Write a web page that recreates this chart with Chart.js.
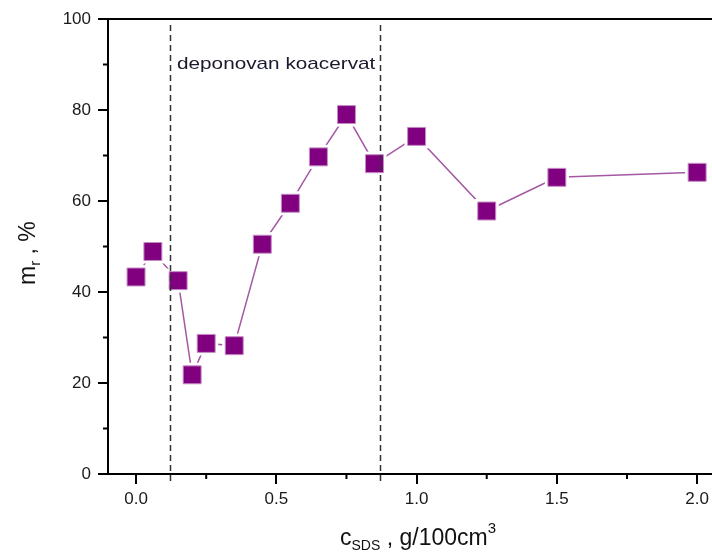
<!DOCTYPE html>
<html lang="sr">
<head>
    <meta charset="UTF-8">
    <title>m_r vs c_SDS</title>
    <script src="https://cdn.jsdelivr.net/npm/chart.js"></script>
    <style>
        html, body {
            margin: 0;
            padding: 0;
            background: #fff;
            overflow: hidden;
        }
        #wrap {
            position: relative;
            width: 712px;
            height: 552px;
            font-family: 'Liberation Sans', Arial, sans-serif;
            color: #111;
        }
        canvas { position: absolute; left: 0; top: 0; }
        .lbl {
            position: absolute;
            white-space: nowrap;
            line-height: 1;
        }
        .lbl sub, .lbl sup {
            position: relative;
            vertical-align: baseline;
            line-height: 0;
        }
        #xtitle { left: 340px; top: 526px; font-size: 23px; }
        #xtitle sub { font-size: 14px; top: 5px; }
        #xtitle sup { font-size: 15px; top: -12px; }
        #ytitle {
            left: 16px; top: 285px; font-size: 23px;
            transform-origin: 0 0;
            transform: rotate(-90deg);
        }
        #ytitle sub { font-size: 15px; top: 5px; }
        #note {
            left: 177px; top: 55px; font-size: 17px; color: #1a1a2e;
            transform-origin: 0 0;
            transform: scaleX(1.22);
        }
    </style>
</head>
<body>
<div id="wrap">
    <canvas id="chart" width="712" height="552"></canvas>
    <div class="lbl" id="ytitle">m<sub>r</sub> , %</div>
    <div class="lbl" id="xtitle">c<sub>SDS</sub> , g/100cm<sup>3</sup></div>
    <div class="lbl" id="note">deponovan koacervat</div>
</div>

<script>
    // SDS concentration (g/100cm3) and m_r (%)
    const cSDS = [0, 0.06, 0.15, 0.2, 0.25, 0.35, 0.45, 0.55, 0.65, 0.75, 0.85, 1.0, 1.25, 1.5, 2.0];
    const mR   = [43.3, 48.9, 42.5, 21.8, 28.7, 28.2, 50.5, 59.5, 69.7, 79.0, 68.2, 74.2, 57.8, 65.2, 66.3];

    // axis ticks
    const xMajor = [0, 0.5, 1.0, 1.5, 2.0];
    const xMinor = [0.25, 0.75, 1.25, 1.75];
    const yMajor = [0, 20, 40, 60, 80, 100];
    const yMinor = [10, 30, 50, 70, 90];

    // boundaries of the deposited coacervate region
    const regionBounds = [0.12, 0.87];

    const points = cSDS.map((x, i) => ({ x: x, y: mR[i] }));

    const frame = {
        id: 'frame',
        afterDatasetsDraw(chart) {
            const { ctx, chartArea: a, scales: { x, y } } = chart;
            ctx.save();
            // dashed region boundaries
            ctx.strokeStyle = '#333';
            ctx.lineWidth = 1.5;
            ctx.setLineDash([6, 4]);
            regionBounds.forEach(v => {
                const px = Math.round(x.getPixelForValue(v)) + 0.5;
                ctx.beginPath();
                ctx.moveTo(px, a.top + 6);
                ctx.lineTo(px, a.bottom + 7);
                ctx.stroke();
            });
            ctx.setLineDash([]);
            // top frame line
            ctx.strokeStyle = '#000';
            ctx.lineWidth = 2;
            ctx.beginPath();
            ctx.moveTo(a.left, a.top);
            ctx.lineTo(a.right, a.top);
            ctx.stroke();
            // minor ticks
            ctx.beginPath();
            xMinor.forEach(v => {
                const px = x.getPixelForValue(v);
                ctx.moveTo(px, a.bottom);
                ctx.lineTo(px, a.bottom + 5);
            });
            yMinor.forEach(v => {
                const py = y.getPixelForValue(v);
                ctx.moveTo(a.left, py);
                ctx.lineTo(a.left - 5, py);
            });
            ctx.stroke();
            ctx.restore();
        }
    };

    new Chart(document.getElementById('chart'), {
        type: 'scatter',
        data: {
            datasets: [
                {
                    data: points,
                    showLine: true,
                    borderColor: '#a458a4',
                    borderWidth: 1.5,
                    pointRadius: 0,
                    order: 3
                },
                {
                    // white halo so the line stops short of each marker
                    data: points,
                    pointStyle: 'rect',
                    pointRadius: 17,
                    backgroundColor: '#fff',
                    borderWidth: 0,
                    order: 2
                },
                {
                    data: points,
                    pointStyle: 'rect',
                    pointRadius: 12.7,
                    backgroundColor: '#800080',
                    borderColor: '#c48cc4',
                    borderWidth: 1,
                    order: 1
                }
            ]
        },
        options: {
            responsive: false,
            animation: false,
            layout: { autoPadding: false, padding: { top: 19, right: 0, left: 0, bottom: 0 } },
            plugins: {
                legend: { display: false },
                tooltip: { enabled: false }
            },
            scales: {
                x: {
                    type: 'linear',
                    min: -0.1,
                    max: 2.053,
                    afterFit: s => { s.height = 78; s.paddingLeft = 0; s.paddingRight = 0; },
                    afterBuildTicks: s => { s.ticks = xMajor.map(v => ({ value: v })); },
                    grid: { drawOnChartArea: false, drawTicks: true, tickLength: 10, color: '#000', lineWidth: 2 },
                    border: { color: '#000', width: 2 },
                    ticks: {
                        padding: 5,
                        color: '#1a1a1a',
                        font: { family: "'Liberation Sans', Arial", size: 17 },
                        callback: v => v.toFixed(1)
                    }
                },
                y: {
                    min: 0,
                    max: 100,
                    afterFit: s => { s.width = 108; },
                    afterBuildTicks: s => { s.ticks = yMajor.map(v => ({ value: v })); },
                    grid: { drawOnChartArea: false, drawTicks: true, tickLength: 10, color: '#000', lineWidth: 2 },
                    border: { color: '#000', width: 2 },
                    ticks: {
                        padding: 7,
                        color: '#1a1a1a',
                        font: { family: "'Liberation Sans', Arial", size: 17 }
                    }
                }
            }
        },
        plugins: [frame]
    });
</script>
</body>
</html>
